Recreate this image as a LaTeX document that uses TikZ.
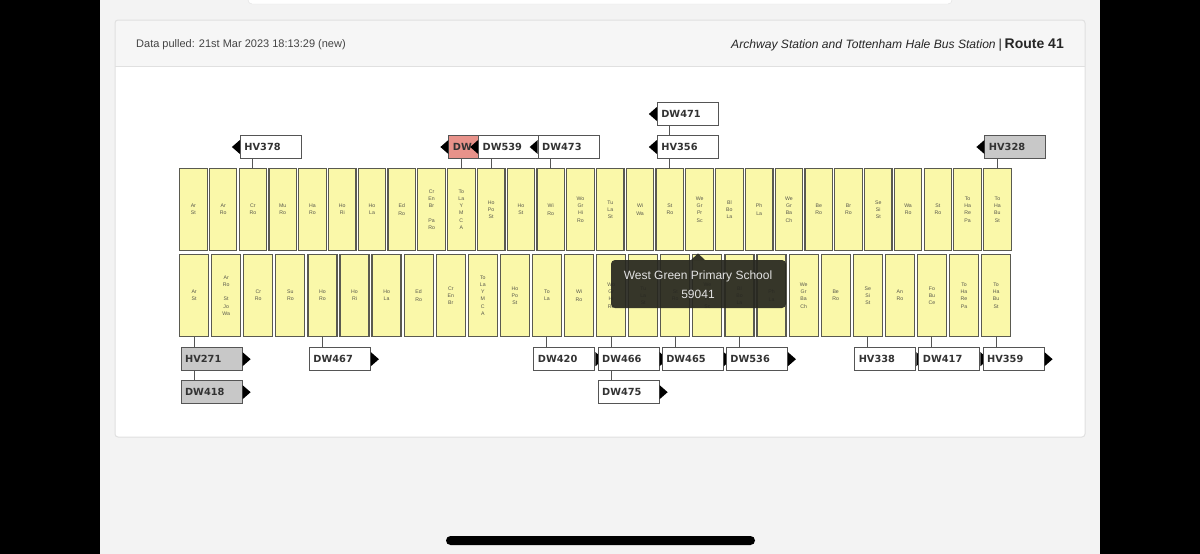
\documentclass[tikz,border=0pt]{standalone}
\usepackage{fontspec}
\setmainfont{Liberation Sans}
\newfontfamily\lblfont{DejaVu Sans}
\usetikzlibrary{calc}
\definecolor{bgGray}{HTML}{F3F3F3}
\definecolor{cardBorder}{HTML}{E0E0E0}
\definecolor{headGray}{HTML}{F6F6F6}
\definecolor{stopFill}{HTML}{FAF8A9}
\definecolor{stopBorder}{HTML}{5A5A50}
\definecolor{stopText}{HTML}{58584C}
\definecolor{lblBorder}{HTML}{555555}
\definecolor{lblText}{HTML}{333333}
\definecolor{lblGray}{HTML}{C8C8C8}
\definecolor{lblRed}{HTML}{E8928A}
\definecolor{connCol}{HTML}{555555}
\definecolor{tipCol}{HTML}{26261F}
\definecolor{tipText}{HTML}{E2E2E2}
\definecolor{hdrText}{HTML}{444444}
\newcommand\lefttri[1]{\fill[black] (#1.west) ++(0,-7) -- ++(-8,7) -- ++(8,7) -- cycle;}
\newcommand\righttri[1]{\fill[black] (#1.east) ++(0,-7) -- ++(8,7) -- ++(-8,7) -- cycle;}
\begin{document}
\begin{tikzpicture}[x=1pt,y=-1pt,
  stopbox/.style={draw=stopBorder, line width=1.2pt, fill=stopFill, anchor=north west,
    minimum height=82pt, inner sep=0pt, align=center, text=stopText,
    font=\fontsize{5.2}{7.2}\selectfont},
  busl/.style={draw=lblBorder, line width=1pt, fill=white, anchor=north west,
    minimum height=23pt, text width=53pt, inner xsep=4pt, inner ysep=0pt, align=left,
    text=lblText, font=\lblfont\bfseries\fontsize{9.8}{11}\selectfont},
  grayl/.style={busl, fill=lblGray},
  redl/.style={busl, fill=lblRed},
  conn/.style={draw=connCol, line width=1pt}]
\useasboundingbox (0,0) rectangle (1200,554);
\fill[black] (0,0) rectangle (1200,554);
\fill[bgGray] (100,0) rectangle (1100,554);
% top card remnant
\draw[fill=white, draw=cardBorder, rounded corners=4] (248,-10) rectangle (952,4);
% main card
\fill[white, rounded corners=3] (115,20) rectangle (1085,437);
\begin{scope}
  \clip[rounded corners=3] (115,20) rectangle (1085,437);
  \fill[headGray] (115,20) rectangle (1085,66);
\end{scope}
\draw[cardBorder] (115,66) -- (1085,66);
\draw[cardBorder, line width=1pt, rounded corners=3] (115,20) rectangle (1085,437);
\node[anchor=west, inner sep=0pt, text=hdrText, font=\fontsize{11}{13}\selectfont] (pulled) at (136,45) {Data pulled: 21st Mar 2023 18:13:29 (new)};
\node[anchor=east, inner sep=0pt, text=black!85] (route) at (1064,45) {{\fontsize{12.1}{14}\selectfont\itshape Archway Station and Tottenham Hale Bus Station} {\fontsize{13}{14}\selectfont|} {\fontsize{14}{15}\selectfont\bfseries Route 41}};
% top row of stops
\foreach \t [count=\i] in {{Ar\\St},{Ar\\Ro},{Cr\\Ro},{Mu\\Ro},{Ha\\Ro},{Ho\\Ri},{Ho\\La},{Ed\\Ro},{Cr\\En\\Br\\~\\Pa\\Ro},{To\\La\\Y\\M\\C\\A},{Ho\\Po\\St},{Ho\\St},{Wi\\Ro},{Wo\\Gr\\Hi\\Ro},{Tu\\La\\St},{Wi\\Wa},{St\\Ro},{We\\Gr\\Pr\\Sc},{Bl\\Bo\\La},{Ph\\La},{We\\Gr\\Ba\\Ch},{Be\\Ro},{Br\\Ro},{Se\\Si\\St},{Wa\\Ro},{St\\Ro},{To\\Ha\\Re\\Pa},{To\\Ha\\Bu\\St}}{
  \node[stopbox, minimum width=27.5pt] (t\i) at ({179+(\i-1)*29.78},168) {\t};
}
% bottom row of stops
\foreach \t [count=\i] in {{Ar\\St},{Ar\\Ro\\~\\St\\Jo\\Wa},{Cr\\Ro},{Su\\Ro},{Ho\\Ro},{Ho\\Ri},{Ho\\La},{Ed\\Ro},{Cr\\En\\Br},{To\\La\\Y\\M\\C\\A},{Ho\\Po\\St},{To\\La},{Wi\\Ro},{Wo\\Gr\\Hi\\Ro},{Tu\\La\\St},{St\\Ro},{We\\Gr\\Pr\\Sc},{Bl\\Bo\\La},{Ph\\La},{We\\Gr\\Ba\\Ch},{Be\\Ro},{Se\\Si\\St},{An\\Ro},{Fo\\Bu\\Ce},{To\\Ha\\Re\\Pa},{To\\Ha\\Bu\\St}}{
  \node[stopbox, minimum width=29pt] (b\i) at ({179+(\i-1)*32.08},254) {\t};
}
% ---- top labels ----
\node[busl] (HV378) at ($(t3.north)+(-13,-33)$) {HV378}; \lefttri{HV378}
\node[redl] (DWred) at ($(t10.north)+(-13,-33)$) {DW}; \lefttri{DWred}
\node[busl] (DW539) at ($(t11.north)+(-13,-33)$) {DW539}; \lefttri{DW539}
\node[busl] (DW473) at ($(t13.north)+(-13,-33)$) {DW473}; \lefttri{DW473}
\node[busl] (HV356) at ($(t17.north)+(-13,-33)$) {HV356}; \lefttri{HV356}
\node[busl] (DW471) at ($(t17.north)+(-13,-66)$) {DW471}; \lefttri{DW471}
\node[grayl] (HV328) at ($(t28.north)+(-13,-33)$) {HV328}; \lefttri{HV328}
\foreach \s/\l in {t3/HV378, t10/DWred, t11/DW539, t13/DW473, t17/HV356, t28/HV328}{
  \draw[conn] (\s.north) -- (\s.north |- \l.south);
}
\draw[conn] (t17.north |- HV356.north) -- (t17.north |- DW471.south);
% ---- bottom labels ----
\node[grayl] (HV271) at ($(b1.south)+(-13.5,10)$) {HV271}; \righttri{HV271}
\node[grayl] (DW418) at ($(b1.south)+(-13.5,43)$) {DW418}; \righttri{DW418}
\node[busl] (DW467) at ($(b5.south)+(-13.5,10)$) {DW467}; \righttri{DW467}
\node[busl] (DW420) at ($(b12.south)+(-13.5,10)$) {DW420}; \righttri{DW420}
\node[busl] (DW466) at ($(b14.south)+(-13.5,10)$) {DW466}; \righttri{DW466}
\node[busl] (DW475) at ($(b14.south)+(-13.5,43)$) {DW475}; \righttri{DW475}
\node[busl] (DW465) at ($(b16.south)+(-13.5,10)$) {DW465}; \righttri{DW465}
\node[busl] (DW536) at ($(b18.south)+(-13.5,10)$) {DW536}; \righttri{DW536}
\node[busl] (HV338) at ($(b22.south)+(-13.5,10)$) {HV338}; \righttri{HV338}
\node[busl] (DW417) at ($(b24.south)+(-13.5,10)$) {DW417}; \righttri{DW417}
\node[busl] (HV359) at ($(b26.south)+(-13.5,10)$) {HV359}; \righttri{HV359}
\foreach \s/\l in {b1/HV271, b5/DW467, b12/DW420, b14/DW466, b16/DW465, b18/DW536, b22/HV338, b24/DW417, b26/HV359}{
  \draw[conn] (\s.south) -- (\s.south |- \l.north);
}
\draw[conn] (b1.south |- HV271.south) -- (b1.south |- DW418.north);
\draw[conn] (b14.south |- DW466.south) -- (b14.south |- DW475.north);
% ---- tooltip ----
\fill[tipCol, opacity=0.92, rounded corners=4] (611,260) rectangle (786,308);
\fill[tipCol, opacity=0.92] (691,260) -- (698,253.5) -- (705,260) -- cycle;
\node[text=tipText, inner sep=0pt, font=\fontsize{12}{14}\selectfont] (tipname) at (698,276) {West Green Primary School};
\node[text=tipText, inner sep=0pt, font=\fontsize{12}{14}\selectfont] (tipcode) at (698,294) {59041};
% home indicator
\fill[black, rounded corners=4.5] (446,536) rectangle (755,545);
\end{tikzpicture}
\end{document}
